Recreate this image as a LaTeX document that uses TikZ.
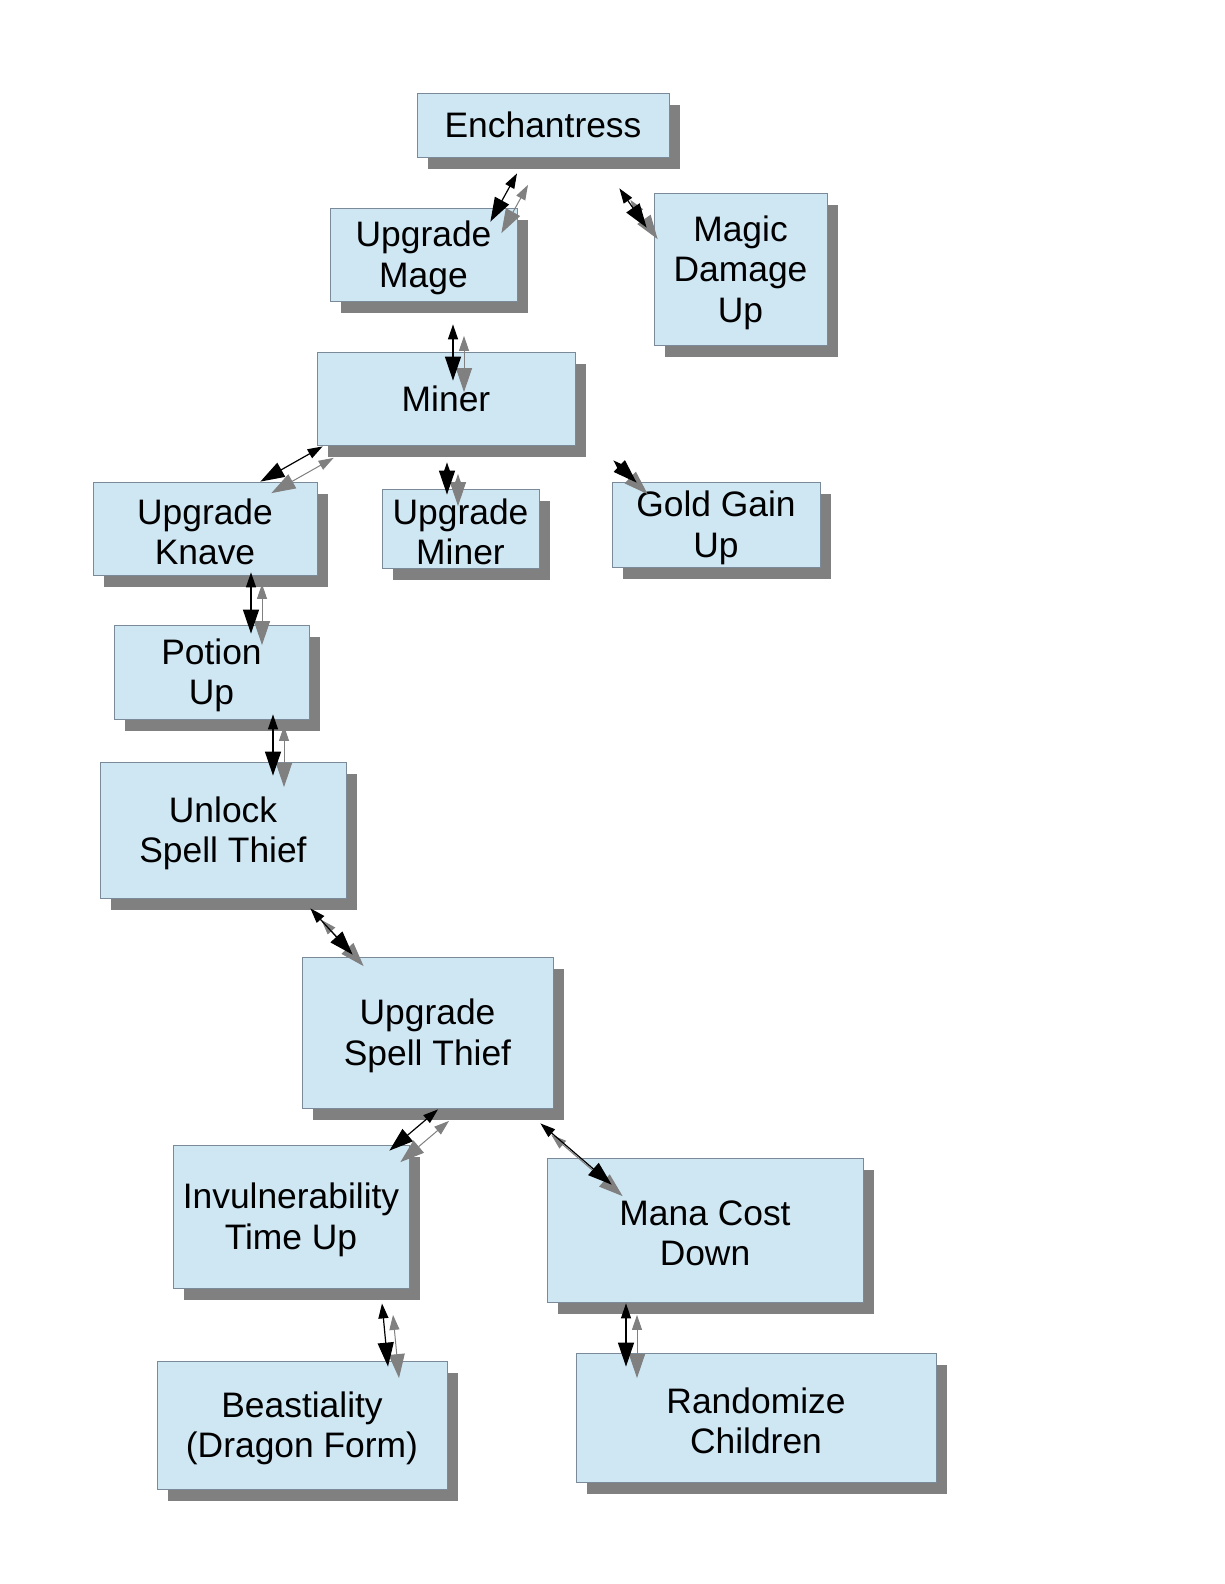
\documentclass[tikz,border=0pt]{standalone}
\usepackage{fontspec}
\setmainfont{Liberation Sans}
\usetikzlibrary{arrows.meta,shadows}
\definecolor{boxfill}{HTML}{CFE6F3}
\definecolor{boxline}{HTML}{7A8A99}
\definecolor{shadowgray}{HTML}{808080}
\newcommand\linkpair[2]{%
  \draw[gline,transform canvas={shift={(11pt,-11.5pt)}}] #1 -- #2;
  \draw[bline] #1 -- #2;}
\begin{document}
\begin{tikzpicture}[x=1pt,y=-1pt,
  box/.style={draw=boxline, line width=0.8pt, fill=boxfill, rectangle, inner sep=0pt,
    align=center, font=\fontsize{35.4}{40.5}\selectfont,
    general shadow={fill=shadowgray, shadow xshift=11pt, shadow yshift=-12pt}},
  mtext/.style={align=center, font=\fontsize{35.4}{40.5}\selectfont, inner sep=0pt, yshift=-3.5pt},
  bline/.style={line width=1.2pt, draw=black,
    {Triangle[length=15pt,width=10pt,fill=black]}-{Triangle[length=24pt,width=16pt,fill=black]}},
  gline/.style={line width=1pt, draw=shadowgray,
    {Triangle[length=15pt,width=10pt,fill=shadowgray]}-{Triangle[length=24pt,width=16pt,fill=shadowgray]}}]
\fill[white] (0,0) rectangle (1224,1584);
\useasboundingbox (0,0) rectangle (1224,1584);

\node[box, minimum width=252pt, minimum height=64pt]  (ench)   at (543,125)    {Enchantress};
\node[box, minimum width=187pt, minimum height=93pt,  label={[mtext]center:Upgrade\\Mage}]  (umage)  at (423.5,254.5) {};
\node[box, minimum width=173pt, minimum height=152pt, label={[mtext]center:Magic\\Damage\\Up}] (magic)  at (740.5,269)  {};
\node[box, minimum width=258pt, minimum height=93pt]  (miner)  at (446,398.5)  {Miner};
\node[box, minimum width=224pt, minimum height=93pt,  label={[mtext]center:Upgrade\\Knave}]  (uknave) at (205,528.5)  {};
\node[box, minimum width=157pt, minimum height=79pt,  label={[mtext]center:Upgrade\\Miner}]  (uminer) at (460.5,528.5) {};
\node[box, minimum width=208pt, minimum height=85pt,  label={[mtext]center:Gold Gain\\Up}]  (gold)   at (716,524.5)  {};
\node[box, minimum width=195pt, minimum height=94pt,  label={[mtext]center:Potion\\Up}]  (potion) at (211.5,672)  {};
\node[box, minimum width=246pt, minimum height=136pt, label={[mtext]center:Unlock\\Spell Thief}] (unlock) at (223,830)    {};
\node[box, minimum width=251pt, minimum height=151pt, label={[mtext]center:Upgrade\\Spell Thief}] (ust)    at (427.5,1032.5) {};
\node[box, minimum width=236pt, minimum height=143pt, label={[mtext]center:Invulnerability\\Time Up}] (invul)  at (291,1216.5) {};
\node[box, minimum width=316pt, minimum height=144pt, label={[mtext]center:Mana Cost\\Down}] (mana)   at (705,1230)   {};
\node[box, minimum width=290pt, minimum height=128pt, label={[mtext]center:Beastiality\\(Dragon Form)}] (beast)  at (302,1425)   {};
\node[box, minimum width=360pt, minimum height=129pt, label={[mtext]center:Randomize\\Children}] (random) at (756,1417.5) {};

\linkpair{([shift={(-26,16)}]ench.south)}{([shift={(-27,14)}]umage.north east)}
\linkpair{([shift={(-50,31)}]ench.south east)}{([shift={(-7,35)}]magic.north west)}
\linkpair{([shift={(29.5,23)}]umage.south)}{([shift={(7,29)}]miner.north)}
\linkpair{([shift={(6,1)}]miner.south west)}{([shift={(-57,0)}]uknave.north east)}
\linkpair{([shift={(1,17)}]miner.south)}{([shift={(-13.5,6)}]uminer.north)}
\linkpair{([shift={(38,15)}]miner.south east)}{([shift={(25,1)}]gold.north west)}
\linkpair{([shift={(46,-3)}]uknave.south)}{([shift={(39.5,9)}]potion.north)}
\linkpair{([shift={(61.5,-5)}]potion.south)}{([shift={(50,14)}]unlock.north)}
\linkpair{([shift={(-36,10)}]unlock.south east)}{([shift={(51,-2)}]ust.north west)}
\linkpair{([shift={(10.5,1)}]ust.south)}{([shift={(-20,6)}]invul.north east)}
\linkpair{([shift={(-13,15)}]ust.south east)}{([shift={(65,27)}]mana.north west)}
\linkpair{([shift={(91,15)}]invul.south)}{([shift={(86,6)}]beast.north)}
\linkpair{([shift={(-79,1)}]mana.south)}{([shift={(-130,14)}]random.north)}
\end{tikzpicture}
\end{document}
